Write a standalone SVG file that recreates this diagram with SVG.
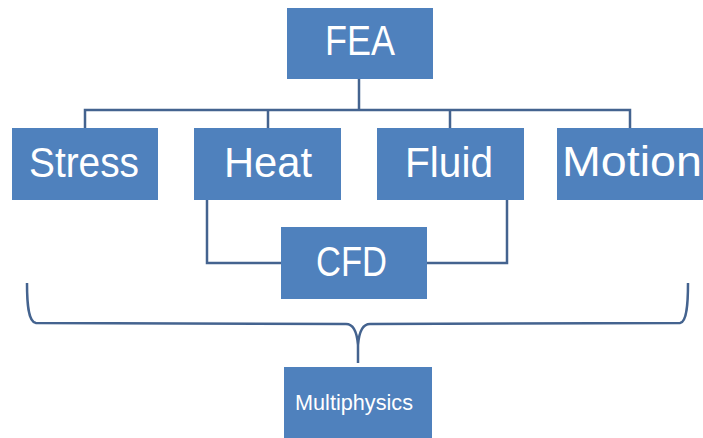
<svg xmlns="http://www.w3.org/2000/svg" width="703" height="438" viewBox="0 0 703 438">
  <style>
    .box { fill: #4F81BD; }
    .lbl { fill: #FFFFFF; font-family: "Liberation Sans", Arial, sans-serif; font-size: 42px; text-anchor: middle; }
    .small { font-size: 22.5px; }
    .wire { fill: none; stroke: #44638F; stroke-width: 2.5; }
  </style>
  <rect width="703" height="438" fill="#FFFFFF"/>

  <g id="connectors">
    <!-- FEA tree -->
    <path class="wire" d="M359,78 V110 M85,128 V110 H630 V128 M268,110 V128 M450,110 V128"/>
    <!-- Heat / Fluid into CFD -->
    <path class="wire" d="M207,200 V263 H281 M507,200 V263 H427"/>
    <!-- brace gathering all into Multiphysics -->
    <path class="wire" d="M27,283 C27,302 28,322 36,323 L346,324 C354,324 357,332 358,345 L358,363 M358,345 C359,332 362,324 370,324 L680,323 C687,322 688,302 688,283"/>
  </g>

  <g id="fea">
    <rect class="box" x="287" y="8" width="146" height="71"/>
    <text class="lbl" x="360" y="55" textLength="70" lengthAdjust="spacingAndGlyphs">FEA</text>
  </g>
  <g id="stress">
    <rect class="box" x="12" y="128" width="146" height="72"/>
    <text class="lbl" x="84" y="177" textLength="110" lengthAdjust="spacingAndGlyphs">Stress</text>
  </g>
  <g id="heat">
    <rect class="box" x="194" y="128" width="147" height="72"/>
    <text class="lbl" x="268" y="177" textLength="88" lengthAdjust="spacingAndGlyphs">Heat</text>
  </g>
  <g id="fluid">
    <rect class="box" x="377" y="128" width="147" height="72"/>
    <text class="lbl" x="449" y="177" textLength="88" lengthAdjust="spacingAndGlyphs">Fluid</text>
  </g>
  <g id="motion">
    <rect class="box" x="557" y="128" width="150" height="72"/>
    <text class="lbl" x="632" y="176" textLength="140" lengthAdjust="spacingAndGlyphs">Motion</text>
  </g>
  <g id="cfd">
    <rect class="box" x="281" y="227" width="146" height="72"/>
    <text class="lbl" x="351.5" y="276" textLength="71" lengthAdjust="spacingAndGlyphs">CFD</text>
  </g>
  <g id="multiphysics">
    <rect class="box" x="284" y="367" width="148" height="80"/>
    <text class="lbl small" x="354" y="410" textLength="118" lengthAdjust="spacingAndGlyphs">Multiphysics</text>
  </g>
</svg>
